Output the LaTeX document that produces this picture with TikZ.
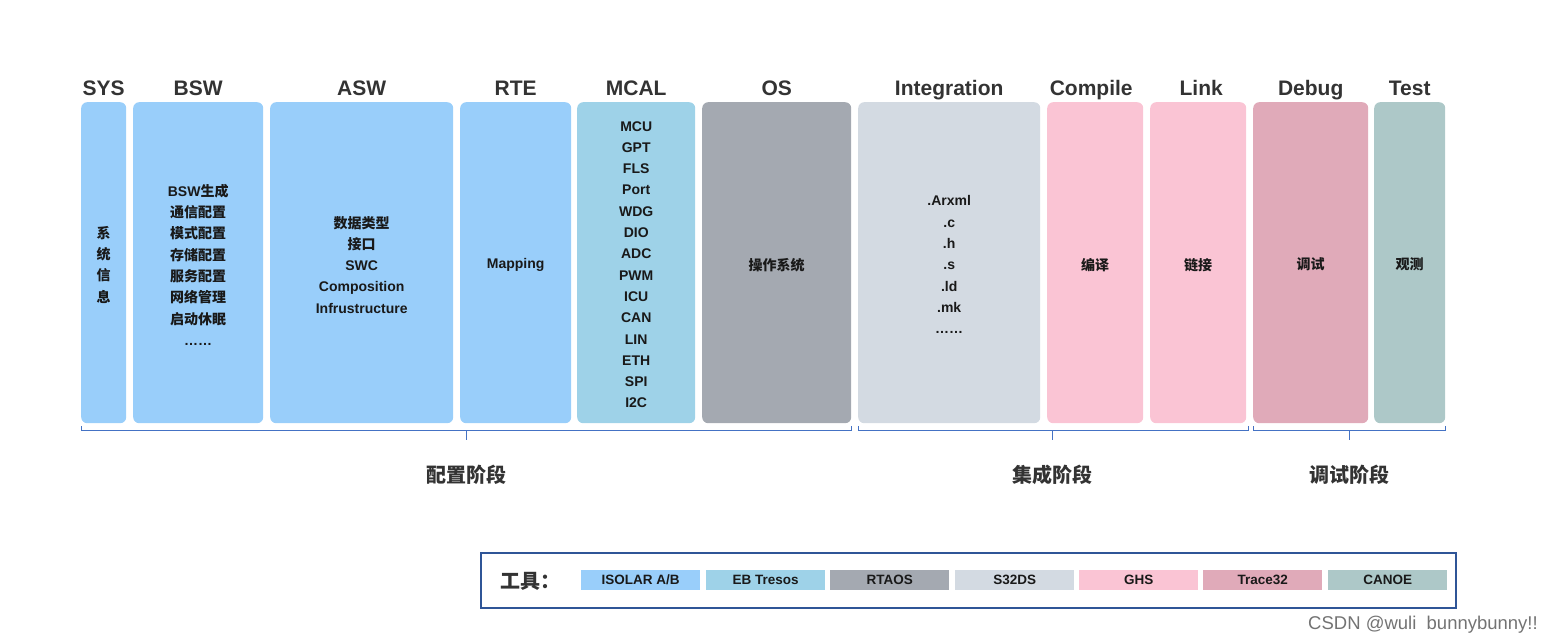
\documentclass[tikz,border=0pt]{standalone}
\usepackage{fontspec}
\setmainfont{Liberation Sans}
\newfontfamily\cjk{Noto Sans CJK SC}
\usetikzlibrary{positioning, calc}

\definecolor{swblue}{RGB}{153,206,250}
\definecolor{mcalblue}{RGB}{158,210,232}
\definecolor{osgray}{RGB}{164,169,177}
\definecolor{intgray}{RGB}{211,218,226}
\definecolor{cmppink}{RGB}{250,196,212}
\definecolor{dbgpink}{RGB}{224,170,185}
\definecolor{tstgreen}{RGB}{173,200,200}
\definecolor{brkblue}{RGB}{68,114,196}
\definecolor{lgdblue}{RGB}{47,85,151}
\definecolor{txtdark}{RGB}{51,51,51}

\tikzset{
  head/.style={anchor=base, text=txtdark, font=\fontsize{21}{25}\selectfont\bfseries, inner sep=0pt},
  blk/.style={anchor=north west, rounded corners=6pt, minimum height=321pt, inner sep=0pt},
  inner/.style={align=center, text=black!90, font=\fontsize{14}{21.3}\selectfont\bfseries, inner sep=0pt},
  brk/.style={draw=brkblue, line width=1pt},
  phase/.style={text=txtdark, font=\fontsize{20}{24}\selectfont\bfseries\cjk, inner sep=0pt},
  swatch/.style={anchor=west, minimum width=119pt, minimum height=20pt, inner sep=0pt,
    font=\fontsize{13.5}{16}\selectfont\bfseries, text=black!90}
}

\begin{document}
\begin{tikzpicture}[x=1pt, y=-1pt]
    \useasboundingbox (0,0) rectangle (1554,644);

    % columns
    \node[blk, fill=swblue, minimum width=45pt] (sys) at (81,102) {};
    \node[blk, fill=swblue, minimum width=130pt] (bsw) at (133,102) {};
    \node[blk, fill=swblue, minimum width=183pt] (asw) at (270,102) {};
    \node[blk, fill=swblue, minimum width=111pt] (rte) at (460,102) {};
    \node[blk, fill=mcalblue, minimum width=118pt] (mcal) at (577,102) {};
    \node[blk, fill=osgray, minimum width=149pt] (os) at (702,102) {};
    \node[blk, fill=intgray, minimum width=182pt] (integ) at (858,102) {};
    \node[blk, fill=cmppink, minimum width=96pt] (comp) at (1047,102) {};
    \node[blk, fill=cmppink, minimum width=96pt] (link) at (1150,102) {};
    \node[blk, fill=dbgpink, minimum width=115pt] (debug) at (1253,102) {};
    \node[blk, fill=tstgreen, minimum width=71pt] (test) at (1374,102) {};

    % headers
    \node[head] (hsys) at (sys.north |- 0,96) {SYS};
    \node[head] (hbsw) at (bsw.north |- 0,96) {BSW};
    \node[head] (hasw) at (asw.north |- 0,96) {ASW};
    \node[head] (hrte) at (rte.north |- 0,96) {RTE};
    \node[head] (hmcal) at (mcal.north |- 0,96) {MCAL};
    \node[head] (hos) at (os.north |- 0,96) {OS};
    \node[head] (hinteg) at (integ.north |- 0,96) {Integration};
    \node[head] (hcomp) at ($(comp.north |- 0,96)+(-4,0)$) {Compile};
    \node[head] (hlink) at ($(link.north |- 0,96)+(3,0)$) {Link};
    \node[head] (hdebug) at (debug.north |- 0,96) {Debug};
    \node[head] (htest) at (test.north |- 0,96) {Test};

    % column contents
    \node[inner] (tsys) at ($(sys.center)+(0,2)$) {\cjk 系\\\cjk 统\\\cjk 信\\\cjk 息};
    \node[inner] (tbsw) at ($(bsw.center)+(0,2)$) {BSW{\cjk 生成}\\\cjk 通信配置\\\cjk 模式配置\\\cjk 存储配置\\\cjk 服务配置\\\cjk 网络管理\\\cjk 启动休眠\\……};
    \node[inner] (tasw) at ($(asw.center)+(0,2)$) {\cjk 数据类型\\\cjk 接口\\SWC\\Composition\\Infrustructure};
    \node[inner] (trte) at ($(rte.center)+(0,2)$) {Mapping};
    \node[inner] (tmcal) at ($(mcal.center)+(0,2)$) {MCU\\GPT\\FLS\\Port\\WDG\\DIO\\ADC\\PWM\\ICU\\CAN\\LIN\\ETH\\SPI\\I2C};
    \node[inner] (tos) at ($(os.center)+(0,2)$) {\cjk 操作系统};
    \node[inner] (tinteg) at ($(integ.center)+(0,2)$) {.Arxml\\.c\\.h\\.s\\.ld\\.mk\\……};
    \node[inner] (tcomp) at ($(comp.center)+(0,2)$) {\cjk 编译};
    \node[inner] (tlink) at ($(link.center)+(0,2)$) {\cjk 链接};
    \node[inner] (tdebug) at ($(debug.center)+(0,2)$) {\cjk 调试};
    \node[inner] (ttest) at ($(test.center)+(0,2)$) {\cjk 观测};

    % phase brackets
    \coordinate (cfgL) at (81,430);
    \coordinate (cfgR) at (851,430);
    \coordinate (cfgM) at (466,430);
    \coordinate (intL) at (858,430);
    \coordinate (intR) at (1248,430);
    \coordinate (intM) at (1052,430);
    \coordinate (dbgL) at (1253,430);
    \coordinate (dbgR) at (1445,430);
    \coordinate (dbgM) at (1349,430);

    \draw[brk] ($(cfgL)+(0,-4)$) -- (cfgL) -- (cfgR) -- ($(cfgR)+(0,-4)$);
    \draw[brk] (cfgM) -- ++(0,10);
    \draw[brk] ($(intL)+(0,-4)$) -- (intL) -- (intR) -- ($(intR)+(0,-4)$);
    \draw[brk] (intM) -- ++(0,10);
    \draw[brk] ($(dbgL)+(0,-4)$) -- (dbgL) -- (dbgR) -- ($(dbgR)+(0,-4)$);
    \draw[brk] (dbgM) -- ++(0,10);

    \node[phase] (pcfg) at (cfgM |- 0,475) {配置阶段};
    \node[phase] (pint) at (intM |- 0,475) {集成阶段};
    \node[phase] (pdbg) at (dbgM |- 0,475) {调试阶段};

    % tools legend
    \draw[draw=lgdblue, line width=1.5pt] (481,553) rectangle (1456,608);
    \node[phase] (ltitle) at (530,581) {工具：};
    \node[swatch, fill=swblue] (lisolar) at (581,580) {ISOLAR A/B};
    \node[swatch, fill=mcalblue] (ltresos) at (706,580) {EB Tresos};
    \node[swatch, fill=osgray] (lrtaos) at (830,580) {RTAOS};
    \node[swatch, fill=intgray] (ls32ds) at (955,580) {S32DS};
    \node[swatch, fill=cmppink] (lghs) at (1079,580) {GHS};
    \node[swatch, fill=dbgpink] (ltrace) at (1203,580) {Trace32};
    \node[swatch, fill=tstgreen] (lcanoe) at (1328,580) {CANOE};

    \node[anchor=east, text=black!55, font=\fontsize{18.5}{22}\selectfont, inner sep=0pt] (wmark) at (1538,625) {CSDN @wuli\ \ bunnybunny!!};
\end{tikzpicture}
\end{document}
